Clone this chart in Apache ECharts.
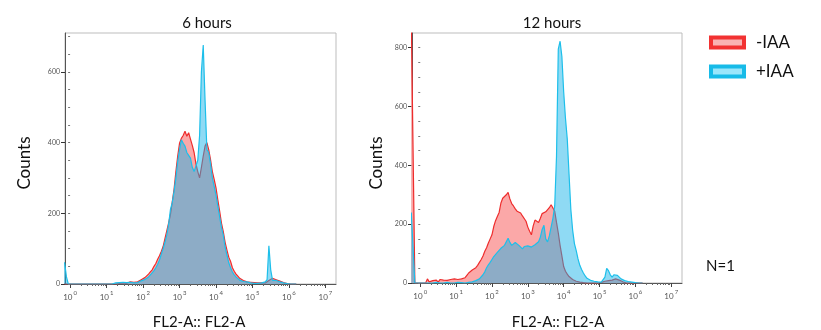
<!DOCTYPE html>
<html>
<head>
<meta charset="utf-8">
<script src="https://cdn.jsdelivr.net/npm/echarts@6/dist/echarts.min.js"></script>
<style>
  html, body { margin: 0; background: #fff; }
  #chart { width: 821px; height: 330px; }
</style>
</head>
<body>
<div id="chart"></div>
<script>
// bin centres in log10(FL2-A) units, shared by both panels
const bins = [
  -0.25, -0.2, -0.15, -0.1, -0.05,
  0, 0.05, 0.1, 0.15, 0.2, 0.25, 0.3, 0.35, 0.4, 0.45, 0.5, 0.55, 0.6, 0.65, 0.7, 0.75, 0.8, 0.85, 0.9, 0.95,
  1, 1.05, 1.1, 1.15, 1.2, 1.25, 1.3, 1.35, 1.4, 1.45, 1.5, 1.55, 1.6, 1.65, 1.7, 1.75, 1.8, 1.85, 1.9, 1.95,
  2, 2.05, 2.1, 2.15, 2.2, 2.25, 2.3, 2.35, 2.4, 2.45, 2.5, 2.55, 2.6, 2.65, 2.7, 2.75, 2.8, 2.85, 2.9, 2.95,
  3, 3.05, 3.1, 3.15, 3.2, 3.25, 3.3, 3.35, 3.4, 3.45, 3.5, 3.55, 3.6, 3.65, 3.7, 3.75, 3.8, 3.85, 3.9, 3.95,
  4, 4.05, 4.1, 4.15, 4.2, 4.25, 4.3, 4.35, 4.4, 4.45, 4.5, 4.55, 4.6, 4.65, 4.7, 4.75, 4.8, 4.85, 4.9, 4.95,
  5, 5.05, 5.1, 5.15, 5.2, 5.25, 5.3, 5.35, 5.4, 5.45, 5.5, 5.55, 5.6, 5.65, 5.7, 5.75, 5.8, 5.85, 5.9, 5.95,
  6, 6.05, 6.1, 6.15, 6.2
];

// 6 hours
const minus6h = [
  0, 0, 0, 0, 0,
  0, 0, 0, 0, 0, 0, 0, 0, 0, 0, 0, 0, 0, 0, 0, 0, 0, 0, 0, 0,
  0, 0, 0, 0, 2, 0, 3, 2, 4, 3, 5, 2, 4, 6, 3, 5, 7, 6, 9, 12,
  14, 18, 22, 28, 34, 40, 50, 58, 70, 80, 92, 106, 128, 150, 172, 196, 232, 268, 318, 362,
  398, 412, 420, 432, 418, 428, 410, 392, 372, 340, 318, 300, 330, 362, 390, 400, 380, 352, 318, 296,
  272, 238, 206, 172, 148, 118, 96, 76, 64, 46, 36, 28, 22, 16, 12, 10, 8, 6, 4, 5,
  3, 4, 2, 3, 2, 3, 4, 3, 6, 10, 12, 16, 14, 12, 10, 8, 6, 4, 2, 1,
  0, 0, 0, 0, 0
];
const plus6h = [
  60, 60, 60, 20, 0,
  0, 0, 0, 0, 0, 0, 0, 0, 0, 0, 0, 0, 0, 0, 0, 0, 0, 0, 0, 0,
  0, 0, 0, 0, 1, 3, 2, 4, 2, 5, 3, 4, 2, 5, 4, 3, 5, 4, 7, 9,
  10, 13, 16, 20, 26, 30, 38, 46, 56, 68, 84, 100, 118, 138, 168, 210, 230, 262, 300, 346,
  380, 408, 398, 390, 372, 364, 356, 330, 318, 334, 350, 420, 600, 676, 520, 380, 372, 340, 300, 276,
  252, 220, 190, 160, 138, 104, 82, 60, 46, 34, 26, 20, 15, 11, 9, 7, 5, 6, 4, 3,
  4, 2, 3, 2, 4, 3, 4, 6, 12, 108, 40, 10, 12, 10, 8, 6, 4, 3, 2, 1,
  0, 0, 0, 0, 0
];

// 12 hours
const minus12h = [
  900, 900, 0, 0, 0,
  0, 0, 0, 0, 14, 4, 0, 8, 2, 10, 3, 12, 6, 10, 4, 9, 6, 12, 8, 14,
  10, 12, 16, 14, 20, 18, 26, 34, 38, 44, 48, 52, 60, 70, 80, 92, 108, 120, 136, 150,
  164, 192, 212, 226, 240, 272, 288, 294, 300, 308, 286, 270, 262, 252, 244, 246, 238, 228, 226, 210,
  190, 176, 164, 194, 214, 210, 206, 220, 236, 240, 242, 248, 256, 266, 272, 244, 206, 170, 128, 92,
  56, 40, 30, 22, 16, 12, 9, 6, 4, 3, 2, 1, 0, 0, 0, 0, 0, 0, 0, 0,
  2, 2, 4, 6, 8, 8, 10, 10, 12, 14, 12, 10, 6, 4, 2, 0, 0, 0, 0, 0,
  0, 0, 0, 0, 0
];
const plus12h = [
  240, 240, 0, 0, 0,
  0, 0, 0, 0, 0, 0, 0, 0, 0, 2, 0, 0, 0, 0, 0, 2, 0, 0, 0, 0,
  0, 2, 0, 1, 2, 0, 3, 2, 2, 4, 6, 8, 10, 14, 20, 28, 38, 52, 62, 70,
  80, 90, 96, 104, 108, 118, 120, 128, 140, 152, 138, 128, 134, 138, 140, 128, 122, 116, 124, 128,
  126, 122, 122, 126, 130, 128, 140, 156, 182, 196, 150, 140, 160, 166, 220, 262, 430, 795, 822, 770,
  650, 560, 490, 370, 250, 180, 134, 110, 82, 60, 46, 34, 24, 16, 12, 9, 7, 6, 5, 4,
  3, 3, 4, 20, 50, 42, 28, 20, 28, 32, 26, 20, 14, 10, 8, 7, 5, 4, 3, 2,
  1, 0, 0, 0, 0
];

const decadeTicks = [0, 1, 2, 3, 4, 5, 6, 7];
const countTicks6h = [0, 200, 400, 600];
const countTicks12h = [0, 200, 400, 600, 800];
const minorCount6h = [0, 50, 100, 150, 200, 250, 300, 350, 400, 450, 500, 550, 600, 650, 700];
const minorCount12h = [0, 50, 100, 150, 200, 250, 300, 350, 400, 450, 500, 550, 600, 650, 700, 750, 800];

// minor log ticks (2..9 within each decade)
const minorDecadeTicks = [];
for (let n = 0; n < 7; n++) {
  for (let k = 2; k <= 9; k++) minorDecadeTicks.push(n + Math.log10(k));
}

const FONT = 'Lato, "Open Sans", sans-serif';
const RED = '#ee2d2d';
const PINK = '#fba8a8';
const CYAN = '#1dbfea';
const CYAN_FILL = 'rgba(20,178,232,0.48)';

const panels = [
  {
    grid: { left: 65, top: 33, width: 271, height: 251 },
    xMin: -0.14, xMax: 7.29, yMax: 710,
    yTicks: countTicks6h, yMinor: minorCount6h,
    minus: minus6h, plus: plus6h
  },
  {
    grid: { left: 412, top: 33, width: 270, height: 250 },
    xMin: -0.23, xMax: 7.3, yMax: 850,
    yTicks: countTicks12h, yMinor: minorCount12h,
    minus: minus12h, plus: plus12h
  }
];

const grids = [], xAxes = [], yAxes = [], series = [];

panels.forEach((p, i) => {
  grids.push(Object.assign({ show: true, borderColor: '#bdbdbd', borderWidth: 1 }, p.grid));

  xAxes.push({
    gridIndex: i, type: 'value', position: 'bottom', min: p.xMin, max: p.xMax,
    axisLine: { show: true, onZero: false, lineStyle: { color: '#555', width: 1 } },
    axisTick: { show: true, customValues: decadeTicks, length: 4, lineStyle: { color: '#444' } },
    axisLabel: {
      customValues: decadeTicks, margin: 6,
      formatter: v => '{b|10}{s|' + v + '}',
      rich: {
        b: { fontSize: 8, color: '#555', fontFamily: FONT, verticalAlign: 'bottom' },
        s: { fontSize: 6, color: '#555', fontFamily: FONT, verticalAlign: 'bottom', padding: [0, 0, 5, 1] }
      }
    },
    splitLine: { show: false }
  });
  xAxes.push({
    gridIndex: i, type: 'value', position: 'bottom', min: p.xMin, max: p.xMax,
    axisLine: { show: false },
    axisTick: { show: true, customValues: minorDecadeTicks, length: 2, lineStyle: { color: '#666' } },
    axisLabel: { show: false },
    splitLine: { show: false }
  });

  yAxes.push({
    gridIndex: i, type: 'value', position: 'left', min: 0, max: p.yMax,
    axisLine: { show: true, onZero: false, lineStyle: { color: '#555', width: 1 } },
    axisTick: { show: true, customValues: p.yTicks, length: 4, lineStyle: { color: '#333' } },
    axisLabel: { customValues: p.yTicks, fontSize: 7, color: '#555', margin: 5, fontFamily: FONT },
    splitLine: { show: false }
  });
  yAxes.push({
    gridIndex: i, type: 'value', position: 'left', min: 0, max: p.yMax,
    axisLine: { show: false },
    axisTick: { show: true, customValues: p.yMinor, length: 2, lineStyle: { color: '#777' } },
    axisLabel: { show: false },
    splitLine: { show: false }
  });

  series.push({
    type: 'line', name: '-IAA', xAxisIndex: 2 * i, yAxisIndex: 2 * i,
    data: bins.map((b, k) => [b, p.minus[k]]),
    symbol: 'none', clip: true,
    lineStyle: { color: RED, width: 1.2 },
    itemStyle: { color: RED },
    areaStyle: { color: PINK, opacity: 1 },
    z: 2
  });
  series.push({
    type: 'line', name: '+IAA', xAxisIndex: 2 * i, yAxisIndex: 2 * i,
    data: bins.map((b, k) => [b, p.plus[k]]),
    symbol: 'none', clip: true,
    lineStyle: { color: CYAN, width: 1.2 },
    itemStyle: { color: CYAN },
    areaStyle: { color: CYAN_FILL, opacity: 1 },
    z: 3
  });
});

const chart = echarts.init(document.getElementById('chart'), null, { renderer: 'canvas' });

const txt = (text, x, y, size, extra) => Object.assign({
  type: 'text', x: x, y: y,
  style: { text: text, font: size + 'px ' + FONT, fill: '#111', align: 'center', verticalAlign: 'middle' }
}, extra || {});

chart.setOption({
  animation: false,
  backgroundColor: '#fff',
  grid: grids,
  xAxis: xAxes,
  yAxis: yAxes,
  series: series,
  legend: {
    orient: 'vertical', left: 704, top: 29,
    icon: 'rect', itemWidth: 33, itemHeight: 10, itemGap: 12,
    textStyle: { fontSize: 17, color: '#111', fontFamily: FONT, padding: [0, 0, 0, 7] },
    data: [
      { name: '-IAA', itemStyle: { color: '#f9b3b3', borderColor: '#f23232', borderWidth: 4 } },
      { name: '+IAA', itemStyle: { color: '#9ae6fb', borderColor: '#17bbe8', borderWidth: 4 } }
    ]
  },
  graphic: [
    txt('6 hours', 207, 23, 15),
    txt('12 hours', 552, 23, 15),
    txt('Counts', 25, 163, 17, { rotation: Math.PI / 2 }),
    txt('Counts', 377, 163, 17, { rotation: Math.PI / 2 }),
    txt('FL2-A:: FL2-A', 199, 322, 15),
    txt('FL2-A:: FL2-A', 558, 322, 15),
    txt('N=1', 706, 266, 15, { style: { text: 'N=1', font: '15px ' + FONT, fill: '#111', align: 'left', verticalAlign: 'middle' } })
  ]
});
</script>
</body>
</html>
